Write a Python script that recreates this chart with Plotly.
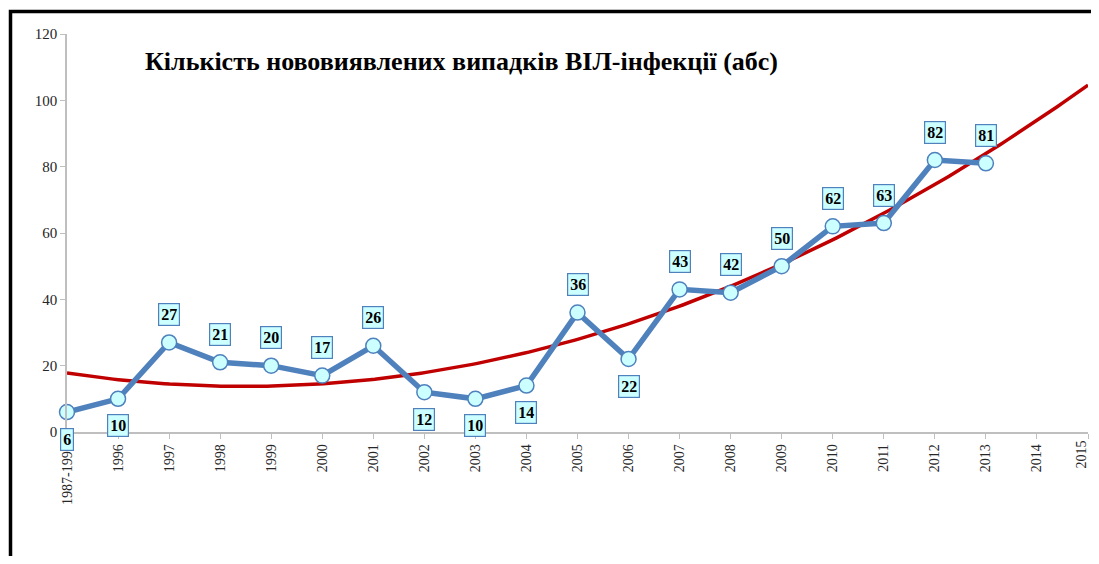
import numpy as np
import plotly.graph_objects as go

categories = ["1987-1995", "1996", "1997", "1998", "1999", "2000", "2001", "2002", "2003",
              "2004", "2005", "2006", "2007", "2008", "2009", "2010", "2011", "2012", "2013",
              "2014", "2015"]
cases = [6, 10, 27, 21, 20, 17, 26, 12, 10, 14, 36, 22, 43, 42, 50, 62, 63, 82, 81]
label_side = ["below", "below", "above", "above", "above", "above", "above", "below", "below",
              "below", "above", "below", "above", "above", "above", "above", "above", "above", "above"]
title_text = "Кількість нововиявлених випадків ВІЛ-інфекції (абс)"

xi = np.arange(len(cases))
coef = np.polyfit(xi, cases, 2)
xt = np.linspace(0, len(categories) - 1, 200)
yt = np.polyval(coef, xt)

# page has an 8px body margin; plot area in page pixels: x 67..1088, y 34..432
PW, PH = 1021, 398
n_cat = len(categories)

fig = go.Figure()
fig.add_trace(go.Scatter(x=xt, y=yt, mode="lines",
                         line=dict(color="#C00000", width=3.5), hoverinfo="skip",
                         cliponaxis=False))
fig.add_trace(go.Scatter(x=xi, y=cases, mode="lines+markers",
                         line=dict(color="#4F81BD", width=5.5),
                         marker=dict(size=15, color="#CCFFFF", line=dict(color="#4F81BD", width=1.5)),
                         cliponaxis=False))

for i, v in enumerate(cases):
    fig.add_annotation(x=i, y=v, text="<b>%d</b>" % v, showarrow=False,
                       yshift=28 if label_side[i] == "above" else -27,
                       font=dict(family="Liberation Serif", size=16, color="black"),
                       bgcolor="#CCFFFF", bordercolor="#4F81BD", borderwidth=1.2, borderpad=2)

fig.add_annotation(xref="paper", yref="paper", x=(143 - 67) / PW, y=(432 - 62) / PH,
                   xanchor="left", yanchor="middle", showarrow=False,
                   text="<b>%s</b>" % title_text,
                   font=dict(family="Liberation Serif", size=26, color="black"))

# last category label drawn as annotation so it stays inside the figure edge
fig.add_annotation(x=n_cat - 1, y=0, text=categories[-1], textangle=-90, showarrow=False,
                   xanchor="right", yanchor="top", xshift=2, yshift=-7,
                   font=dict(family="Liberation Serif", size=14, color="#262626"))

fig.add_shape(type="rect", xref="paper", yref="paper",
              x0=(10.5 - 67) / PW, x1=1.2, y0=-0.6, y1=(432 - 11.5) / PH,
              line=dict(color="black", width=3.5), fillcolor="rgba(0,0,0,0)", layer="above")

fig.update_layout(
    width=1083, height=548,
    margin=dict(l=59, r=3, t=26, b=124),
    paper_bgcolor="white", plot_bgcolor="white",
    showlegend=False,
    font=dict(family="Liberation Serif", color="#404040"),
    xaxis=dict(tickmode="array", tickvals=list(range(n_cat)),
               ticktext=categories[:-1] + [""],
               range=[0, n_cat - 1], showgrid=False, zeroline=False,
               showline=True, linecolor="#BFBFBF", linewidth=1.5,
               ticks="outside", ticklen=5, tickcolor="#BFBFBF",
               tickangle=-90, tickfont=dict(size=14, color="#262626", family="Liberation Serif")),
    yaxis=dict(range=[0, 120], tickvals=[0, 20, 40, 60, 80, 100, 120],
               showgrid=False, zeroline=False, showline=True, linecolor="#BFBFBF", linewidth=1.5,
               ticks="outside", ticklen=5, tickcolor="#BFBFBF",
               tickfont=dict(size=15, color="#262626", family="Liberation Serif")),
)

fig.write_html("out.html", config={"displayModeBar": False})
